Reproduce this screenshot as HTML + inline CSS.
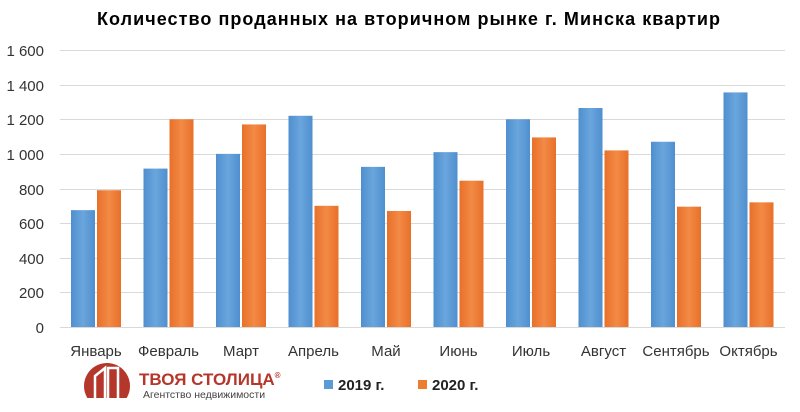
<!DOCTYPE html>
<html><head><meta charset="utf-8"><style>
body{margin:0;background:#fff;}
svg{display:block;font-family:"Liberation Sans",sans-serif;}
</style></head><body>
<svg width="800" height="412" viewBox="0 0 800 412" xmlns="http://www.w3.org/2000/svg">
<defs>
<linearGradient id="b" x1="0" x2="1"><stop offset="0" stop-color="#4f8fcf"/><stop offset="0.5" stop-color="#6aa6dd"/><stop offset="1" stop-color="#4f8fcf"/></linearGradient>
<linearGradient id="o" x1="0" x2="1"><stop offset="0" stop-color="#e8702a"/><stop offset="0.5" stop-color="#f28a45"/><stop offset="1" stop-color="#e8702a"/></linearGradient>
<clipPath id="c"><rect x="0" y="0" width="800" height="398"/></clipPath>
</defs>
<text x="97" y="25" font-size="18" font-weight="bold" fill="#000" textLength="623" lengthAdjust="spacing">Количество проданных на вторичном рынке г. Минска квартир</text>
<g stroke="#d9d9d9" stroke-width="1">
<line x1="60" x2="785" y1="50.5" y2="50.5"/><line x1="60" x2="785" y1="85.5" y2="85.5"/><line x1="60" x2="785" y1="119.5" y2="119.5"/><line x1="60" x2="785" y1="154.5" y2="154.5"/><line x1="60" x2="785" y1="189.5" y2="189.5"/><line x1="60" x2="785" y1="223.5" y2="223.5"/><line x1="60" x2="785" y1="258.5" y2="258.5"/><line x1="60" x2="785" y1="292.5" y2="292.5"/><line x1="60" x2="785" y1="327.5" y2="327.5"/>
</g>
<g font-size="15" fill="#333" text-anchor="end">
<text x="44" y="56">1 600</text><text x="44" y="91">1 400</text><text x="44" y="125">1 200</text><text x="44" y="160">1 000</text><text x="44" y="195">800</text><text x="44" y="229">600</text><text x="44" y="264">400</text><text x="44" y="298">200</text><text x="44" y="333">0</text>
</g>
<g id="bars"></g>
<g font-size="15" fill="#333" text-anchor="middle" id="lbl"></g>
<g clip-path="url(#c)">
<circle cx="107" cy="386" r="23" fill="#b5362b"/>
<path d="M95 398 V376 L105 368 V398 M108 398 V368 H118 V398" stroke="#fff" stroke-width="2.5" fill="none"/>
</g>
<text x="139" y="385" font-size="17" font-weight="bold" fill="#b5362b">ТВОЯ СТОЛИЦА<tspan font-size="8" dy="-7">®</tspan></text>
<text x="143" y="398" font-size="10.5" fill="#444">Агентство недвижимости</text>
<rect x="324" y="380" width="9" height="9" fill="#5b9bd5"/>
<text x="338" y="390" font-size="15" font-weight="bold" fill="#222">2019 г.</text>
<rect x="418" y="380" width="9" height="9" fill="#ed7d31"/>
<text x="432" y="390" font-size="15" font-weight="bold" fill="#222">2020 г.</text>
<script>
var d=[["Январь",675,790],["Февраль",915,1200],["Март",1000,1170],["Апрель",1220,700],["Май",925,670],["Июнь",1010,845],["Июль",1200,1095],["Август",1265,1020],["Сентябрь",1070,695],["Октябрь",1355,720]];
var ns="http://www.w3.org/2000/svg",g=document.getElementById("bars"),L=document.getElementById("lbl");
d.forEach(function(r,i){var cx=96+i*72.5;
[[r[1],cx-25,"url(#b)"],[r[2],cx+1,"url(#o)"]].forEach(function(b){var h=b[0]*277/1600;var e=document.createElementNS(ns,"rect");e.setAttribute("x",b[1]);e.setAttribute("y",327-h);e.setAttribute("width",24);e.setAttribute("height",h);e.setAttribute("fill",b[2]);g.appendChild(e);});
var t=document.createElementNS(ns,"text");t.setAttribute("x",cx);t.setAttribute("y",356);t.textContent=r[0];L.appendChild(t);});
</script>
</svg>
</body></html>
